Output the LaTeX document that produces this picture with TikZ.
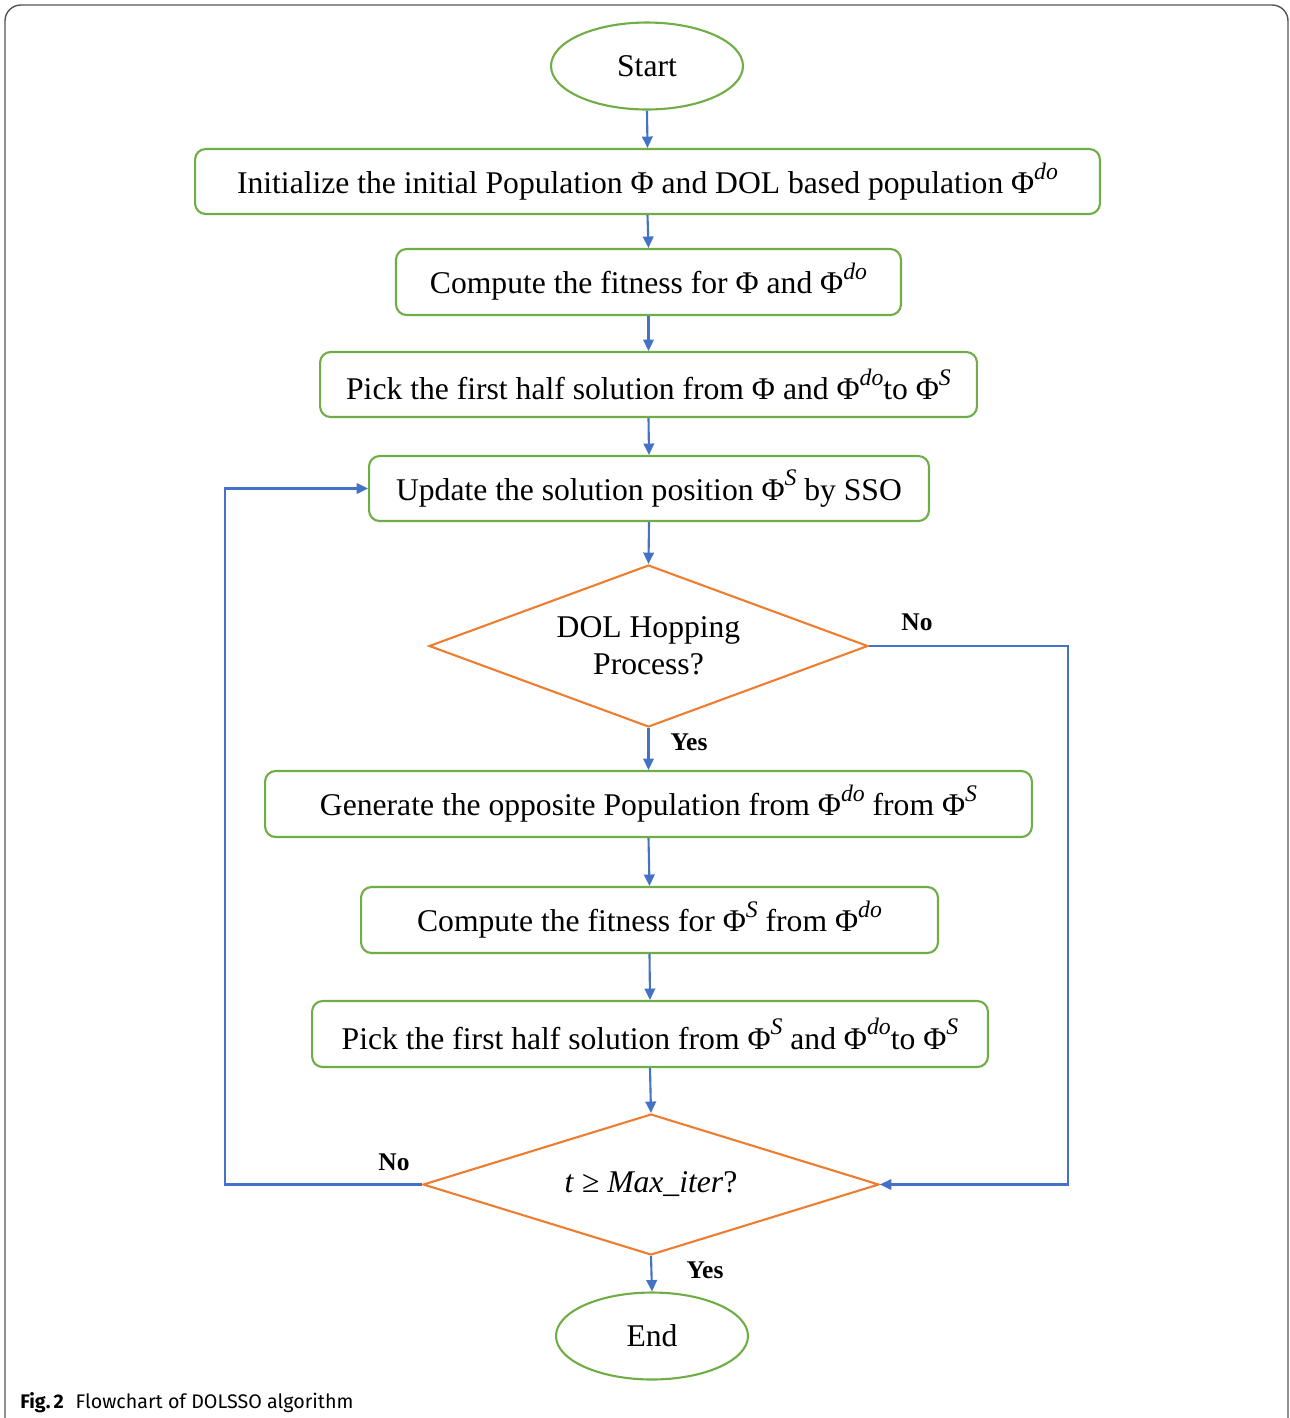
\documentclass[tikz,border=0pt]{standalone}
\usepackage{fontspec}
\setmainfont{Liberation Serif}
\newfontfamily\capfont{Fira Sans}
\usetikzlibrary{shapes.geometric,arrows.meta}
\definecolor{boxgreen}{HTML}{70AD47}
\definecolor{decorange}{HTML}{ED7D31}
\definecolor{arrblue}{HTML}{4472C4}
\definecolor{framegray}{HTML}{555555}
\newcommand\phisup[1]{Φ\raisebox{0.45em}{\fontsize{13.5}{14}\selectfont\itshape #1}}
\begin{document}
\begin{tikzpicture}[x=0.02cm,y=-0.02cm,
  every node/.style={font=\fontsize{18}{21}\selectfont},
  procbox/.style={draw=boxgreen,line width=1.2pt,rounded corners=6pt,inner sep=0pt},
  termbox/.style={draw=boxgreen,line width=1.2pt,ellipse,inner sep=0pt,minimum width=3.84cm,minimum height=1.74cm},
  decbox/.style={draw=decorange,line width=1.2pt,diamond,inner sep=0pt},
  flow/.style={draw=arrblue,line width=1.2pt,-{Triangle[length=6.5pt,width=6pt]}},
  lbl/.style={font=\fontsize{14.5}{16}\selectfont\bfseries}]
\useasboundingbox (0,0) rectangle (1290,1418);
\begin{scope}
\clip (0,0) rectangle (1290,1418);
\draw[framegray,line width=0.8pt,rounded corners=9pt] (5,1450) -- (5,5) -- (1288,5) -- (1288,1450);
\end{scope}

\node[termbox] (start) at (647,66) {Start};
\node[procbox,minimum width=18.10cm,minimum height=1.30cm] (b1) at (647.5,181.5)
  {Initialize the initial Population Φ and DOL based population \phisup{do}};
\node[procbox,minimum width=10.10cm,minimum height=1.32cm] (b2) at (648.5,282)
  {Compute the fitness for Φ and \phisup{do}};
\node[procbox,minimum width=13.14cm,minimum height=1.30cm] (b3) at (648.5,384.5)
  {Pick the first half solution from Φ and \phisup{do}to \phisup{S}};
\node[procbox,minimum width=11.20cm,minimum height=1.30cm] (b4) at (649,488.5)
  {Update the solution position \phisup{S} by SSO};
\node[decbox,aspect=2.71,minimum width=8.78cm,minimum height=3.24cm,align=center] (d1) at (648.5,646)
  {DOL Hopping\\[0pt]Process?};
\node[procbox,minimum width=15.34cm,minimum height=1.32cm] (b5) at (648.5,804)
  {Generate the opposite Population from \phisup{do} from \phisup{S}};
\node[procbox,minimum width=11.54cm,minimum height=1.32cm] (b6) at (649.5,920)
  {Compute the fitness for \phisup{S} from \phisup{do}};
\node[procbox,minimum width=13.52cm,minimum height=1.32cm] (b7) at (650,1034)
  {Pick the first half solution from \phisup{S} and \phisup{do}to \phisup{S}};
\node[decbox,aspect=3.23,minimum width=9.12cm,minimum height=2.82cm] (d2) at (651,1184.5)
  {\textit{t} ≥ \textit{Max\_iter}?};
\node[termbox] (end) at (652,1336) {End};

\draw[flow] (start.south) -- (b1.north);
\draw[flow] (b1.south) -- (b2.north);
\draw[flow] (b2.south) -- (b3.north);
\draw[flow] (b3.south) -- (b4.north);
\draw[flow] (b4.south) -- (d1.north);
\draw[flow] (d1.south) -- (b5.north);
\draw[flow] (b5.south) -- (b6.north);
\draw[flow] (b6.south) -- (b7.north);
\draw[flow] (b7.south) -- (d2.north);
\draw[flow] (d2.south) -- (end.north);

\coordinate (lft) at (225,0);
\coordinate (rgt) at (1068,0);
\draw[flow] (d2.west) -- (d2.west -| lft) -- (b4.west -| lft) -- (b4.west);
\draw[flow] (d1.east) -- (d1.east -| rgt) -- (d2.east -| rgt) -- (d2.east);

\node[lbl] (no1) at (917,622) {No};
\node[lbl] (yes1) at (689,742) {Yes};
\node[lbl] (no2) at (394,1162) {No};
\node[lbl] (yes2) at (705,1270) {Yes};

\node[anchor=base west,inner sep=0pt,font=\capfont\fontsize{11.2}{13}\selectfont] (cap) at (20,1408)
  {\textbf{Fig.\,2}\hspace{0.6em}Flowchart of DOLSSO algorithm};
\end{tikzpicture}
\end{document}
